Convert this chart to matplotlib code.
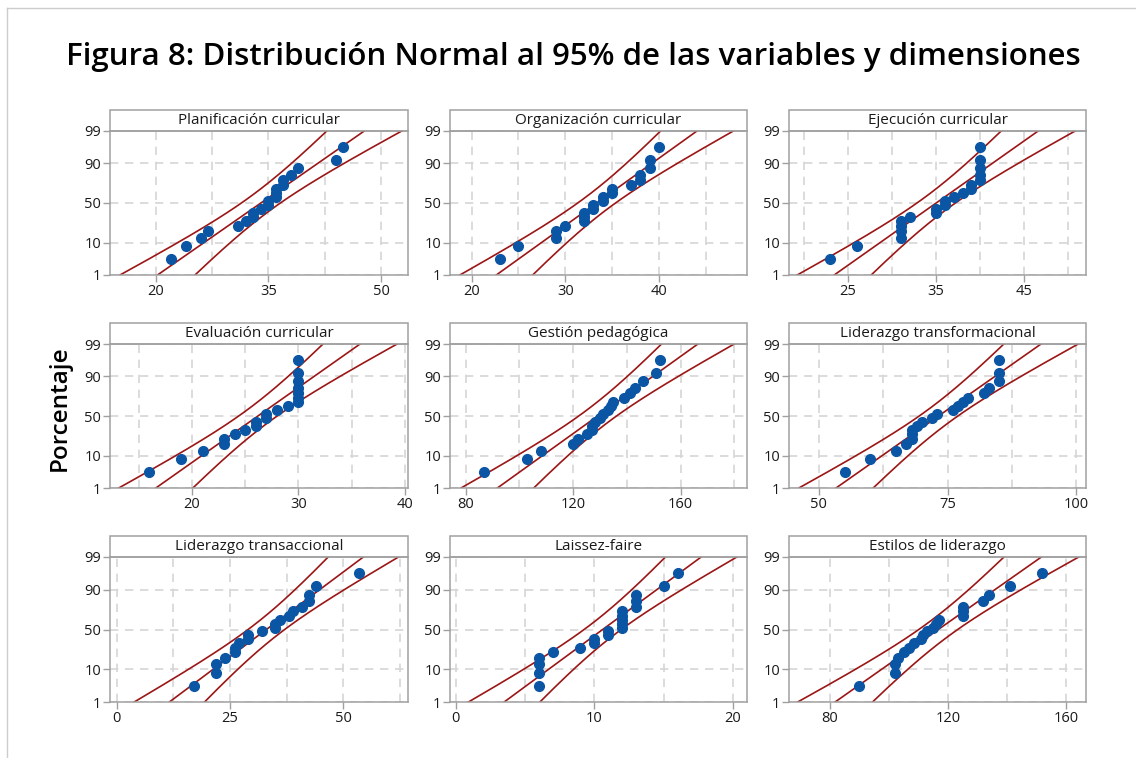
import matplotlib
matplotlib.use("Agg")
import matplotlib.pyplot as plt
import numpy as np
from matplotlib.patches import Rectangle
from matplotlib.lines import Line2D
from statistics import NormalDist

plt.rcParams['font.family'] = ['Open Sans', 'DejaVu Sans']

# panel titles
titles = ["Planificación curricular", "Organización curricular", "Ejecución curricular",
          "Evaluación curricular", "Gestión pedagógica", "Liderazgo transformacional",
          "Liderazgo transaccional", "Laissez-faire", "Estilos de liderazgo"]

# values (n = 20 each)
planificacion = [22, 24, 26, 27, 31, 32, 33, 33, 34, 35, 35, 36, 36, 36, 37, 37, 38, 39, 44, 45]
organizacion = [23, 25, 29, 29, 30, 32, 32, 32, 33, 33, 34, 34, 35, 35, 37, 38, 38, 39, 39, 40]
ejecucion = [23, 26, 31, 31, 31, 31, 32, 35, 35, 36, 36, 37, 38, 39, 39, 40, 40, 40, 40, 40]
evaluacion = [16, 19, 21, 23, 23, 24, 25, 26, 26, 27, 27, 28, 29, 30, 30, 30, 30, 30, 30, 30]
gestion = [87, 103, 108, 120, 122, 125, 127, 127, 128, 130, 131, 133, 134, 135, 139, 141, 143, 146, 151, 152.5]
transformacional = [55, 60, 65, 67, 68, 68, 68, 69, 70, 72, 73, 76, 77, 78, 79, 82, 83, 85, 85, 85]
transaccional = [17, 22, 22, 24, 26, 26, 27, 29, 29, 32, 35, 35, 36, 38, 39, 41, 42.5, 42.5, 44, 53.5]
laissez_faire = [6, 6, 6, 6, 7, 9, 10, 10, 11, 11, 12, 12, 12, 12, 12, 13, 13, 13, 15, 16]
estilos = [90, 102, 102, 103, 105, 107, 108.5, 111, 111.5, 113, 115, 116, 117, 125, 125, 125, 132, 134, 141, 152]

data = [planificacion, organizacion, ejecucion, evaluacion, gestion,
        transformacional, transaccional, laissez_faire, estilos]

major_ticks = [[20, 35, 50], [20, 30, 40], [25, 35, 45],
               [20, 30, 40], [80, 120, 160], [50, 75, 100],
               [0, 25, 50], [0, 10, 20], [80, 120, 160]]
minor_ticks = [[27.5, 42.5], [25, 35, 45], [20, 30, 40, 50],
               [15, 25, 35], [100, 140, 180], [62.5, 87.5],
               [12.5, 37.5, 62.5], [5, 15], [100, 140]]
x_limits = [(13.9, 53.6), (17.7, 49.4), (18.3, 52.0),
            (12.3, 40.3), (74.2, 184.7), (44.2, 101.9),
            (-1.5, 64.3), (-0.4, 21.0), (66.2, 166.8)]

pct_ticks = [1, 10, 50, 90, 99]

nd = NormalDist()
blue = '#0b56a4'
red = '#9b1616'
gray = '#a0a0a0'

W, H = 1136, 758
fig = plt.figure(figsize=(W / 100, H / 100), dpi=100)

col_left = [110, 450, 789]
col_w = [298, 297, 297]
row_top = [131, 344, 557]
row_h = [144, 144, 145]
head_h = 21

zlo, zhi = nd.inv_cdf(0.01), nd.inv_cdf(0.99)

for k in range(9):
    r, c = divmod(k, 3)
    ax = fig.add_axes([col_left[c] / W, 1 - (row_top[r] + row_h[r]) / H,
                       col_w[c] / W, row_h[r] / H])

    vals = np.sort(np.array(data[k], dtype=float))
    n = len(vals)
    pp = (np.arange(1, n + 1) - 0.3) / (n + 0.4)
    zz = np.array([nd.inv_cdf(p) for p in pp])

    m = vals.mean()
    s = vals.std(ddof=1)
    zl = np.linspace(zlo, zhi, 300)
    fit = m + zl * s
    half = 1.96 * s * np.sqrt(1 / n + zl ** 2 / (2 * n))
    for xx in (fit - half, fit, fit + half):
        ax.plot(xx, zl, color=red, lw=1.2, zorder=2)
    ax.plot(vals, zz, 'o', ms=7, color=blue, mec=blue, zorder=3)

    ax.set_xlim(x_limits[k])
    ax.set_ylim(zlo, zhi)
    ax.set_xticks(major_ticks[k])
    ax.set_xticks(minor_ticks[k], minor=True)
    ax.set_yticks([nd.inv_cdf(p / 100) for p in pct_ticks])
    ax.set_yticklabels([str(p) for p in pct_ticks])

    ax.grid(True, which='both', axis='x', ls=(0, (5, 4)), color='#d6d6d6', lw=1.2)
    ax.grid(True, which='major', axis='y', ls=(0, (5, 4)), color='#d6d6d6', lw=1.2)
    ax.set_axisbelow(True)

    ax.tick_params(axis='both', which='major', direction='out', length=5, width=1,
                   color=gray, labelsize=10.5, pad=1.5, labelcolor='#1a1a1a')
    ax.tick_params(axis='both', which='minor', length=0)
    for sp in ax.spines.values():
        sp.set_color(gray)
        sp.set_linewidth(1.1)

    ax.add_patch(Rectangle((0, 1), 1, head_h / row_h[r], transform=ax.transAxes,
                           clip_on=False, facecolor='white', edgecolor=gray, lw=1.1))
    ax.text(0.5, 1 + head_h / 2 / row_h[r], titles[k], transform=ax.transAxes,
            ha='center', va='center', fontsize=11, color='#1a1a1a')

fig.text(0.505, 1 - 57 / H, "Figura 8: Distribución Normal al 95% de las variables y dimensiones",
         ha='center', va='center', fontsize=22.5, fontweight='semibold', color='black')
fig.text(60 / W, 1 - 408 / H, "Porcentaje", rotation=90, ha='center', va='center',
         fontsize=17.5, fontweight='semibold', color='black')

# light frame around the figure
fig.add_artist(Line2D([7 / W, 7 / W], [0, 1 - 8 / H], transform=fig.transFigure,
                      color='#cccccc', lw=1))
fig.add_artist(Line2D([7 / W, 1], [1 - 8 / H, 1 - 8 / H], transform=fig.transFigure,
                      color='#cccccc', lw=1))

fig.savefig("out.png", dpi=100)
